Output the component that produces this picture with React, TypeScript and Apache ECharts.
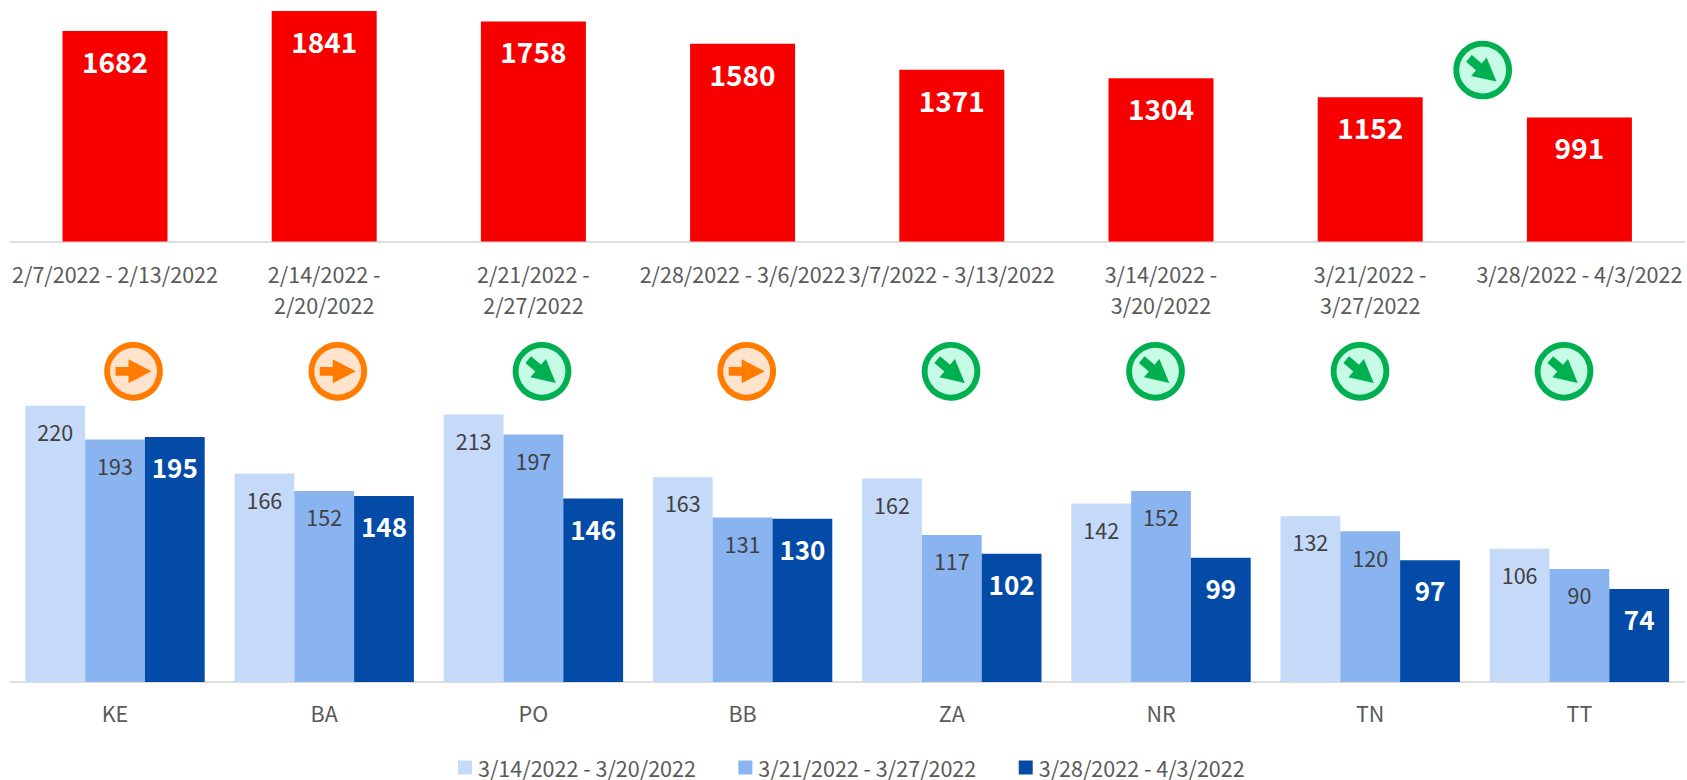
import React, { useEffect, useRef } from "react";
import * as echarts from "echarts";

const weeks = [
  "2/7/2022 - 2/13/2022",
  "2/14/2022 -\n2/20/2022",
  "2/21/2022 -\n2/27/2022",
  "2/28/2022 - 3/6/2022",
  "3/7/2022 - 3/13/2022",
  "3/14/2022 -\n3/20/2022",
  "3/21/2022 -\n3/27/2022",
  "3/28/2022 - 4/3/2022",
];
const weeklyTotals = [1682, 1841, 1758, 1580, 1371, 1304, 1152, 991];
const regions = ["KE", "BA", "PO", "BB", "ZA", "NR", "TN", "TT"];
const week1Name = "3/14/2022 - 3/20/2022";
const week2Name = "3/21/2022 - 3/27/2022";
const week3Name = "3/28/2022 - 4/3/2022";
const week1 = [220, 166, 213, 163, 162, 142, 132, 106];
const week2 = [193, 152, 197, 131, 117, 152, 120, 90];
const week3 = [195, 148, 146, 130, 102, 99, 97, 74];
const regionTrends = ["flat", "flat", "down", "flat", "down", "down", "down", "down"];
const FONT = "Noto Sans CJK SC";

const iconCentersX = [133.5, 337.8, 542, 746.7, 951, 1155.5, 1360, 1564];

function trendIcon(kind: string, x: number, y: number) {
  const flat = kind === "flat";
  const stroke = flat ? "#FF7C00" : "#00B050";
  const fill = flat ? "#FFE3CC" : "#C6FBE5";
  return {
    type: "group",
    x,
    y,
    children: [
      { type: "circle", shape: { cx: 0, cy: 0, r: 26.4 }, style: { fill, stroke, lineWidth: 5.9 } },
      {
        type: "polygon",
        rotation: flat ? 0 : -0.7,
        shape: {
          points: [
            [-18, -4.4],
            [-5, -4.4],
            [-5, -12],
            [18, 0],
            [-5, 12],
            [-5, 4.4],
            [-18, 4.4],
          ],
        },
        style: { fill: stroke },
      },
    ],
  };
}

const barLabel = (color: string, size: number, bold: boolean, distance: number) => ({
  show: true,
  position: "insideTop",
  distance,
  color,
  fontSize: size,
  fontWeight: bold ? "bold" : "normal",
  fontFamily: FONT,
});

export default function App() {
  const ref = useRef<HTMLDivElement>(null);
  useEffect(() => {
    const chart = echarts.init(ref.current!, undefined, { renderer: "svg" });
    const axisLine = { show: true, lineStyle: { color: "#DEDEDE", width: 2 } };
    const axisLabel = {
      interval: 0,
      color: "#595959",
      fontSize: 21.5,
      fontFamily: FONT,
      lineHeight: 31.5,
    };
    chart.setOption({
      animation: false,
      backgroundColor: "#FFFFFF",
      grid: [
        { left: 10.4, width: 1673.6, top: 3.6, height: 237.9 },
        { left: 10.4, width: 1673.6, top: 380.5, height: 301.5 },
      ],
      xAxis: [
        {
          type: "category",
          gridIndex: 0,
          data: weeks,
          axisLine,
          axisTick: { show: false },
          axisLabel: { ...axisLabel, margin: 16 },
        },
        {
          type: "category",
          gridIndex: 1,
          data: regions,
          axisLine,
          axisTick: { show: false },
          axisLabel: { ...axisLabel, margin: 15 },
        },
      ],
      yAxis: [
        { type: "value", gridIndex: 0, min: 0, max: 1900, show: false, splitLine: { show: false } },
        { type: "value", gridIndex: 1, min: 0, max: 240, show: false, splitLine: { show: false } },
      ],
      legend: {
        left: 458,
        top: 756.5,
        data: [week1Name, week2Name, week3Name],
        icon: "rect",
        itemWidth: 14,
        itemHeight: 14,
        itemGap: 42.5,
        padding: 0,
        textStyle: {
          color: "#595959",
          fontSize: 21.5,
          fontFamily: FONT,
          lineHeight: 22,
          padding: [0, 0, 0, 1],
        },
      },
      series: [
        {
          name: "Total",
          type: "bar",
          xAxisIndex: 0,
          yAxisIndex: 0,
          data: weeklyTotals,
          barWidth: 105,
          itemStyle: { color: "#F80000" },
          label: barLabel("#FFFFFF", 28, true, 16),
        },
        {
          name: week1Name,
          type: "bar",
          xAxisIndex: 1,
          yAxisIndex: 1,
          data: week1,
          barWidth: 59.8,
          barGap: 0,
          itemStyle: { color: "#C5D9F8" },
          label: barLabel("#404040", 21.5, false, 15),
        },
        {
          name: week2Name,
          type: "bar",
          xAxisIndex: 1,
          yAxisIndex: 1,
          data: week2,
          barWidth: 59.8,
          barGap: 0,
          itemStyle: { color: "#8AB4F0" },
          label: barLabel("#404040", 21.5, false, 15),
        },
        {
          name: week3Name,
          type: "bar",
          xAxisIndex: 1,
          yAxisIndex: 1,
          data: week3,
          barWidth: 59.8,
          barGap: 0,
          itemStyle: { color: "#044BA8" },
          label: barLabel("#FFFFFF", 26, true, 16.5),
        },
      ],
      graphic: [
        trendIcon("down", 1482.7, 70),
        ...regionTrends.map((t, i) => trendIcon(t, iconCentersX[i], 371.3)),
      ],
    });
    return () => chart.dispose();
  }, []);
  return (
    <div
      ref={ref}
      style={{ position: "absolute", left: 0, top: 0, width: 1687, height: 780, overflow: "hidden" }}
    />
  );
}
